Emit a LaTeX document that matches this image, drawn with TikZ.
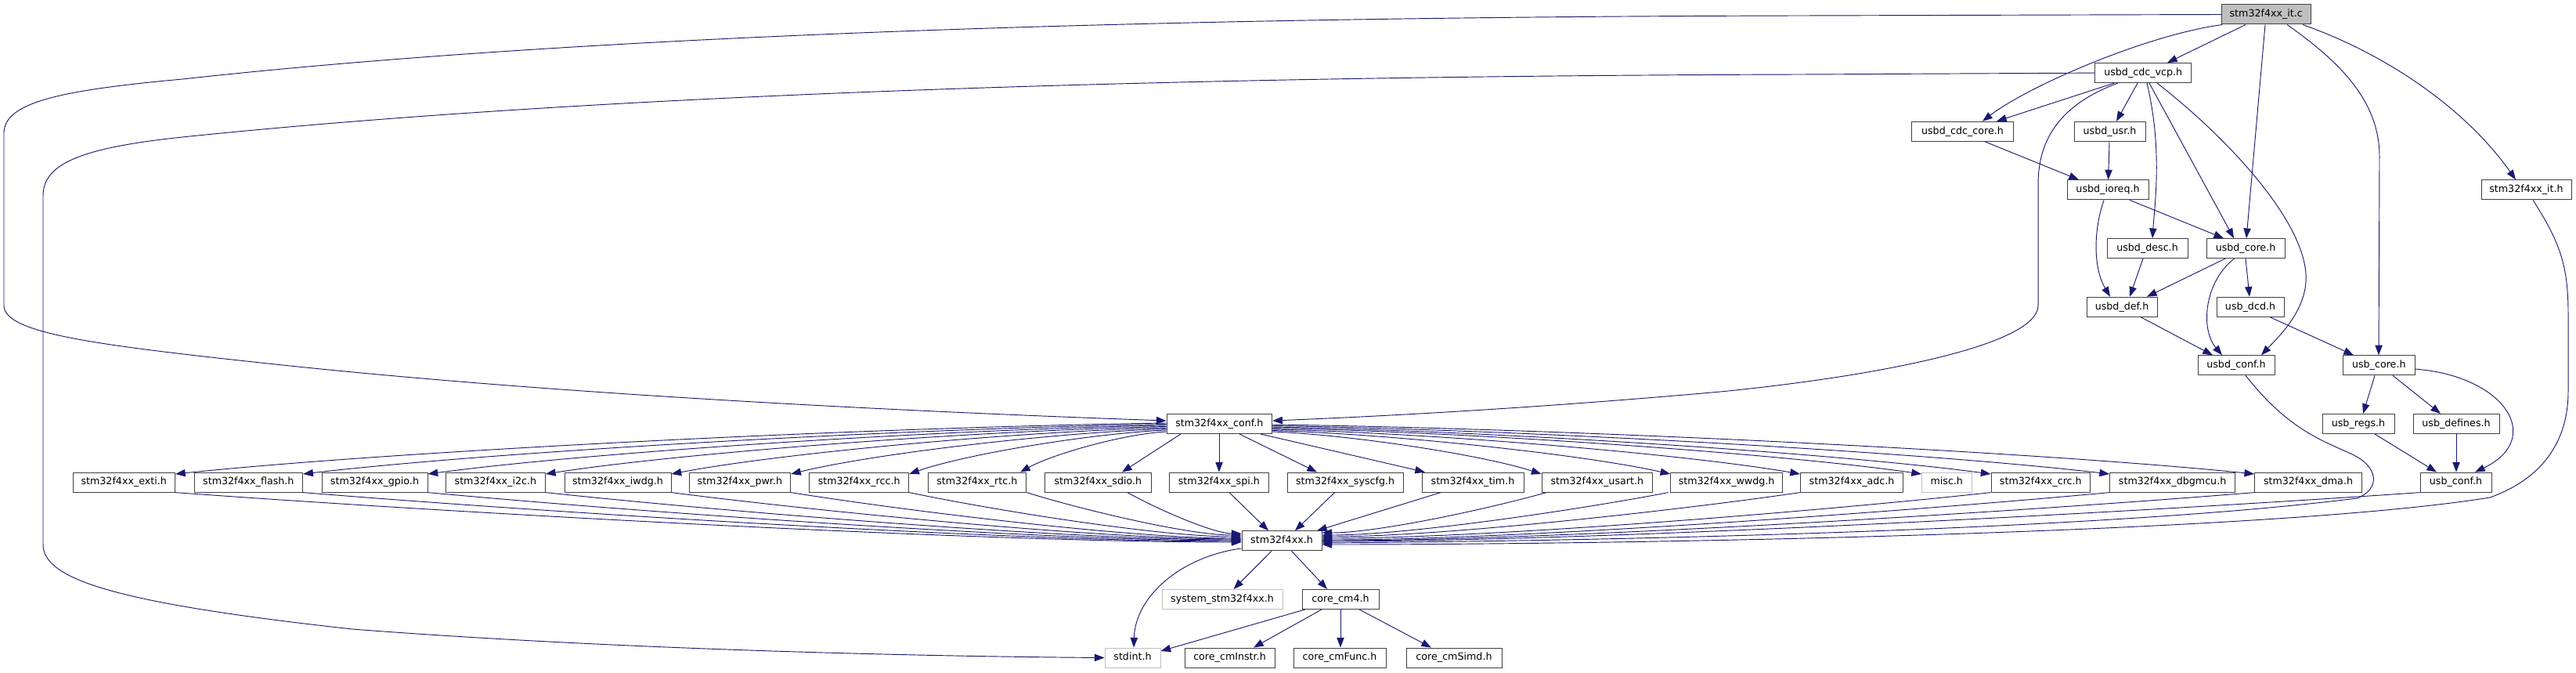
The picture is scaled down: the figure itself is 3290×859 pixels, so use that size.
\documentclass[tikz,border=0pt]{standalone}
\usepackage{fontspec}
\setmainfont{DejaVu Sans}
\usetikzlibrary{arrows.meta,calc}
\definecolor{edgec}{HTML}{191970}
\definecolor{bord}{HTML}{404040}
\definecolor{grayn}{HTML}{BFBFBF}
\newcommand\dgfont{\fontsize{9.5pt}{11pt}\selectfont}
\tikzset{
 nb/.style={draw=bord, fill=white, line width=0.75pt, minimum height=18.75pt, inner sep=0pt, text height=7pt, text depth=2pt, font=\dgfont},
 ng/.style={draw=grayn},
 nroot/.style={fill=grayn},
 e/.style={draw=edgec, line width=0.7pt, -{Triangle[length=9.5pt,width=7pt]}},
}
\newcommand\bnode[6][]{\node[nb,#1,minimum width={(#4-#3)*0.75pt}] (#2) at ({(#3+#4)/2},#5) {#6};}
\begin{document}
\begin{tikzpicture}[x=0.75pt,y=-0.75pt]
\path[use as bounding box] (0,0) rectangle (3290,859);
% rows
\bnode[nroot]{itc}{2837.5}{2951}{18.5}{stm32f4xx\_it.c}
\bnode{vcp}{2675.7}{2798.7}{93.1}{usbd\_cdc\_vcp.h}
\bnode{cdccore}{2441.7}{2571.3}{167.8}{usbd\_cdc\_core.h}
\bnode{usr}{2649}{2740}{167.8}{usbd\_usr.h}
\bnode{ioreq}{2640}{2744}{242.4}{usbd\_ioreq.h}
\bnode{ith}{3169}{3284}{242.4}{stm32f4xx\_it.h}
\bnode{desc}{2691}{2794}{317.1}{usbd\_desc.h}
\bnode{ucore}{2818}{2918}{317.1}{usbd\_core.h}
\bnode{udef}{2665}{2755}{391.7}{usbd\_def.h}
\bnode{dcd}{2831}{2917}{391.7}{usb\_dcd.h}
\bnode{uconf}{2807}{2905}{466.3}{usbd\_conf.h}
\bnode{usbcore}{2992.5}{3084}{466.3}{usb\_core.h}
\bnode{confh}{1490}{1624.7}{541}{stm32f4xx\_conf.h}
\bnode{regs}{2966}{3058}{541}{usb\_regs.h}
\bnode{defines}{3082}{3192}{541}{usb\_defines.h}
% peripheral row
\bnode{exti}{93}{223.5}{615.6}{stm32f4xx\_exti.h}
\bnode{flash}{248}{386.7}{615.6}{stm32f4xx\_flash.h}
\bnode{gpio}{411}{546}{615.6}{stm32f4xx\_gpio.h}
\bnode{iic}{569.4}{696.4}{615.6}{stm32f4xx\_i2c.h}
\bnode{iwdg}{721}{857}{615.6}{stm32f4xx\_iwdg.h}
\bnode{pwr}{880}{1009.7}{615.6}{stm32f4xx\_pwr.h}
\bnode{rcc}{1033.7}{1160.7}{615.6}{stm32f4xx\_rcc.h}
\bnode{rtc}{1185}{1310.7}{615.6}{stm32f4xx\_rtc.h}
\bnode{sdio}{1334.7}{1470}{615.6}{stm32f4xx\_sdio.h}
\bnode{spi}{1493.4}{1620.4}{615.6}{stm32f4xx\_spi.h}
\bnode{syscfg}{1644}{1792.3}{615.6}{stm32f4xx\_syscfg.h}
\bnode{tim}{1816}{1946}{615.6}{stm32f4xx\_tim.h}
\bnode{usart}{1969}{2110.7}{615.6}{stm32f4xx\_usart.h}
\bnode{wwdg}{2133.7}{2276.5}{615.6}{stm32f4xx\_wwdg.h}
\bnode{adc}{2299.5}{2430.6}{615.6}{stm32f4xx\_adc.h}
\bnode[ng]{misc}{2454.5}{2518}{615.6}{misc.h}
\bnode{crc}{2543}{2669.6}{615.6}{stm32f4xx\_crc.h}
\bnode{dbgmcu}{2694.6}{2854.6}{615.6}{stm32f4xx\_dbgmcu.h}
\bnode{dma}{2879.6}{3016.4}{615.6}{stm32f4xx\_dma.h}
\bnode{usbconf}{3091}{3182}{615.6}{usb\_conf.h}
% lower rows
\bnode{f4h}{1586}{1688}{690.3}{stm32f4xx.h}
\bnode[ng]{system}{1484}{1638}{764.9}{system\_stm32f4xx.h}
\bnode{cm4}{1663}{1761}{764.9}{core\_cm4.h}
\bnode[ng]{stdint}{1411}{1482}{839.5}{stdint.h}
\bnode{cminstr}{1513}{1628}{839.5}{core\_cmInstr.h}
\bnode{cmfunc}{1652}{1770}{839.5}{core\_cmFunc.h}
\bnode{cmsimd}{1796}{1918}{839.5}{core\_cmSimd.h}

% ---- edges from stm32f4xx_it.c
\draw[e] (itc.south -| 2868,0) -- (vcp.north -| 2768,0);
\draw[e] (itc.south -| 2838,0) .. controls (2740,45) and (2590,110) .. (cdccore.north -| 2532,0);
\draw[e] (itc.south -| 2893,0) -- (ucore.north -| 2869,0);
\draw[e] (itc.south -| 2921,0) .. controls (2990,80) and (3039,130) .. (3039,200) -- (usbcore.north -| 3038,0);
\draw[e] (itc.south -| 2941,0) .. controls (3050,70) and (3150,140) .. (ith.north -| 3213,0);
\draw[e] (itc.west) -- (2300,20) .. controls (1300,22) and (650,55) .. (233,101)
  .. controls (80,115) and (5,130) .. (5,170) -- (5,390)
  .. controls (5,425) and (120,440) .. (333,463)
  .. controls (700,503) and (1150,525) .. (confh.west |- 0,537);

% ---- edges from usbd_cdc_vcp.h
\draw[e] (vcp.south -| 2700,0) -- (cdccore.north -| 2550,0);
\draw[e] (vcp.west) -- (2300,95) .. controls (1250,98) and (620,135) .. (233,175)
  .. controls (100,189) and (55,210) .. (55,250) -- (55,695)
  .. controls (55,740) and (150,770) .. (450,803)
  .. controls (800,830) and (1200,838) .. (stdint.west);
\draw[e] (vcp.south -| 2705,0) .. controls (2640,130) and (2603,170) .. (2603,235) -- (2603,390)
  .. controls (2603,440) and (2400,480) .. (2197,500)
  .. controls (1950,522) and (1750,532) .. (confh.east |- 0,537);
\draw[e] (vcp.south -| 2730,0) -- (usr.north -| 2703,0);
\draw[e] (vcp.south -| 2742,0) .. controls (2762,190) and (2752,260) .. (desc.north -| 2749,0);
\draw[e] (vcp.south -| 2745,0) -- (ucore.north -| 2853,0);
\draw[e] (vcp.south -| 2755,0) .. controls (2850,180) and (2950,290) .. (2945,360)
  .. controls (2942,400) and (2910,430) .. (uconf.north -| 2888,0);

% ---- usbd layer
\draw[e] (cdccore.south -| 2535,0) -- (ioreq.north -| 2655,0);
\draw[e] (usr.south -| 2694,0) -- (ioreq.north -| 2692.7,0);
\draw[e] (ioreq.south -| 2687,0) .. controls (2672,300) and (2675,345) .. (udef.north -| 2695,0);
\draw[e] (ioreq.south -| 2720,0) -- (ucore.north -| 2840,0);
\draw[e] (desc.south -| 2737,0) -- (udef.north -| 2720,0);
\draw[e] (ucore.south -| 2842,0) -- (udef.north -| 2742,0);
\draw[e] (ucore.south -| 2853.5,0) .. controls (2815,360) and (2810,420) .. (uconf.north -| 2838,0);
\draw[e] (ucore.south -| 2868,0) -- (dcd.north -| 2873,0);
\draw[e] (udef.south -| 2734,0) -- (uconf.north -| 2826,0);
\draw[e] (dcd.south -| 2899,0) -- (usbcore.north -| 3006,0);
\draw[e] (usbcore.south -| 3033,0) -- (regs.north -| 3018,0);
\draw[e] (usbcore.south -| 3056,0) -- (defines.north -| 3117,0);
\draw[e] (usbcore.east |- 0,471) .. controls (3200,480) and (3250,560) .. (usbconf.north -| 3161,0);
\draw[e] (regs.south -| 3033,0) -- (usbconf.north -| 3112,0);
\draw[e] (defines.south) -- (usbconf.north -| 3137,0);

% ---- into stm32f4xx.h from the right
\draw[e] (uconf.south -| 2868,0) .. controls (2920,545) and (2960,560) .. (3000,578)
  .. controls (3040,595) and (3040,625) .. (3010,636)
  .. controls (2700,675) and (2100,690) .. (f4h.east |- 0,693);
\draw[e] (ith.south -| 3235,0) .. controls (3270,310) and (3280,340) .. (3280,400) -- (3280,500)
  .. controls (3280,560) and (3250,610) .. (3180,635)
  .. controls (2900,680) and (2100,695) .. (f4h.east |- 0,695);
\draw[e] (usbconf.south west) .. controls (2740,653) and (2039,691) .. (f4h.east |- 0,691);
\draw[e] (dma.south west) .. controls (2582,653) and (1986,690) .. (f4h.east |- 0,690);
\draw[e] (dbgmcu.south west) .. controls (2443,652) and (1940,689) .. (f4h.east |- 0,689);
\draw[e] (crc.south west) .. controls (2329,652) and (1902,687) .. (f4h.east |- 0,687);
\draw[e] (adc.south west) .. controls (2146,651) and (1841,685) .. (f4h.east |- 0,685);
\draw[e] (wwdg.south -| 2130.6,0) .. controls (2020,650) and (1798,683) .. (f4h.east |- 0,683);
\draw[e] (usart.south -| 1975,0) .. controls (1903,649) and (1760,680) .. (f4h.east |- 0,680);
\draw[e] (tim.south -| 1840,0) -- (f4h.north -| 1682,0);
\draw[e] (syscfg.south -| 1704.6,0) -- (f4h.north -| 1654,0);
\draw[e] (spi.south -| 1570,0) -- (f4h.north -| 1620,0);

% ---- into stm32f4xx.h from the left
\draw[e] (exti.south east) .. controls (564,653.6) and (1245,692) .. (f4h.west |- 0,692);
\draw[e] (flash.south east) .. controls (686.5,653.2) and (1286,691) .. (f4h.west |- 0,691);
\draw[e] (gpio.south east) .. controls (806,652.8) and (1326,690) .. (f4h.west |- 0,690);
\draw[e] (iic.south east) .. controls (918.8,652.4) and (1363.6,689) .. (f4h.west |- 0,689);
\draw[e] (iwdg.south east) .. controls (1039,652) and (1403.8,688) .. (f4h.west |- 0,688);
\draw[e] (pwr.south east) .. controls (1153.8,651.6) and (1442,687) .. (f4h.west |- 0,687);
\draw[e] (rcc.south east) .. controls (1267,650.8) and (1479.7,685) .. (f4h.west |- 0,685);
\draw[e] (rtc.south east) .. controls (1379.5,650) and (1517,683) .. (f4h.west |- 0,683);
\draw[e] (sdio.south -| 1440,0) .. controls (1476.5,649.2) and (1549.5,681) .. (f4h.west |- 0,681);

% ---- from stm32f4xx_conf.h
\draw[e] (confh.west |- 0,540) .. controls (1110,545.2) and (502,575.8) .. (exti.east |- 0,605);
\draw[e] (confh.west |- 0,541.5) .. controls (1159,546.6) and (629.4,576.4) .. (flash.east |- 0,605);
\draw[e] (confh.west |- 0,543) .. controls (1206.8,548) and (753.7,577.1) .. (gpio.east |- 0,605);
\draw[e] (confh.west |- 0,544.5) .. controls (1251.9,549.3) and (871,577.8) .. (iic.east |- 0,605);
\draw[e] (confh.west |- 0,546) .. controls (1300.1,550.7) and (996.3,578.5) .. (iwdg.east |- 0,605);
\draw[e] (confh.west |- 0,547.5) .. controls (1345.9,552.1) and (1115.4,579.1) .. (pwr.east |- 0,605);
\draw[e] (confh.west |- 0,549) .. controls (1391.2,553.5) and (1233.1,579.8) .. (rcc.east |- 0,605);
\draw[e] (confh.west |- 0,551) .. controls (1433.8,554) and (1343.8,580) .. (rtc.north -| 1303,0);
\draw[e] (confh.south -| 1508,0) -- (sdio.north -| 1433,0);
\draw[e] (confh.south -| 1557,0) -- (spi.north -| 1557,0);
\draw[e] (confh.south -| 1583,0) -- (syscfg.north -| 1682,0);
\draw[e] (confh.south -| 1610,0) -- (tim.north -| 1820,0);
\draw[e] (confh.east |- 0,551) .. controls (1728,555.3) and (1893.3,580.7) .. (usart.west |- 0,605);
\draw[e] (confh.east |- 0,549.5) .. controls (1777.4,554) and (2021.7,580) .. (wwdg.west |- 0,605);
\draw[e] (confh.east |- 0,548) .. controls (1827,552.6) and (2151,579.4) .. (adc.west |- 0,605);
\draw[e] (confh.east |- 0,546.5) .. controls (1873.6,551.2) and (2272,578.7) .. (misc.west |- 0,605);
\draw[e] (confh.east |- 0,545) .. controls (1900.2,549.8) and (2341,578) .. (crc.west |- 0,605);
\draw[e] (confh.east |- 0,543.5) .. controls (1945.7,548.4) and (2459.2,577.3) .. (dbgmcu.west |- 0,605);
\draw[e] (confh.east |- 0,542) .. controls (2001,547) and (2603.5,576.7) .. (dma.west |- 0,605);

% ---- from stm32f4xx.h and core_cm4.h
\draw[e] (f4h.south -| 1624,0) -- (system.north -| 1575.5,0);
\draw[e] (f4h.south -| 1649.5,0) -- (cm4.north -| 1695,0);
\draw[e] (f4h.west |- 0,700) .. controls (1510,710) and (1450,760) .. (stdint.north -| 1448,0);
\draw[e] (cm4.south -| 1667,0) -- (stdint.east |- 0,831);
\draw[e] (cm4.south -| 1688,0) -- (cminstr.north -| 1601,0);
\draw[e] (cm4.south -| 1712,0) -- (cmfunc.north -| 1712,0);
\draw[e] (cm4.south -| 1736,0) -- (cmsimd.north -| 1828,0);
\end{tikzpicture}
\end{document}
